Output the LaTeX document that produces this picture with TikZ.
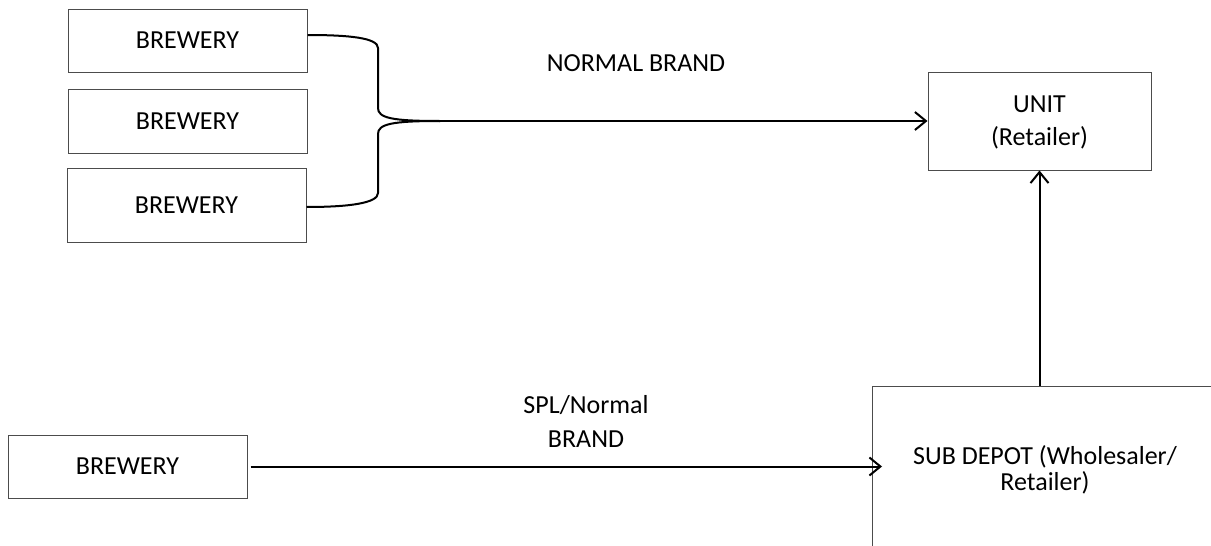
\documentclass[tikz,border=0pt]{standalone}
\usepackage{fontspec}
\setmainfont{Carlito}
\usetikzlibrary{arrows.meta}
\begin{document}
\begin{tikzpicture}[x=1pt,y=-1pt,
  box/.style={draw=black!70, line width=1pt, inner sep=0pt, font=\fontsize{26}{26}\selectfont, align=center},
  lbl/.style={inner sep=0pt, font=\fontsize{26}{26}\selectfont, align=center},
  conn/.style={draw=black, line width=2pt},
  arr/.style={conn, -{Straight Barb[length=11pt,width=18pt,line width=2pt]}}]
\useasboundingbox (0,0) rectangle (1211,546);
\clip (0,0) rectangle (1211,546);
\node[box, minimum width=239, minimum height=63] (b1) at (187.5,40.5) {BREWERY};
\node[box, minimum width=239, minimum height=64] (b2) at (187.5,121) {BREWERY};
\node[box, minimum width=239, minimum height=74] (b3) at (186.5,205) {BREWERY};
\node[box, minimum width=239, minimum height=63] (b4) at (127.5,466.5) {BREWERY};
\node[box, minimum width=223, minimum height=98, text depth=0pt, font=\fontsize{26}{33}\selectfont] (unit) at (1039.5,121) {UNIT\\(Retailer)};
\node[box, anchor=north west, minimum width=345, minimum height=166] (depot) at (872,386) {SUB DEPOT (Wholesaler/\\Retailer)};
\node[lbl] (l1) at (636,63) {NORMAL BRAND};
\node[lbl, font=\fontsize{26}{34}\selectfont] (l2) at (586,421) {SPL/Normal\\BRAND};
\coordinate (tip) at (440,121);
\draw[conn] ([yshift=5.5pt]b1.east) .. controls (350,35) and (378,38) .. (378,48) -- (378,108) .. controls (378,118) and (392,121) .. (tip);
\draw[conn] (tip) .. controls (392,121) and (378,124) .. (378,134) -- (378,193) .. controls (378,203) and (350,207) .. ([yshift=-2pt]b3.east);
\draw[arr] (tip) -- (unit.west);
\draw[arr] (unit.south |- depot.north) -- (unit.south);
\draw[arr] ([xshift=3pt]b4.east) -- ([xshift=10pt]b4.east -| depot.west);
\end{tikzpicture}
\end{document}
